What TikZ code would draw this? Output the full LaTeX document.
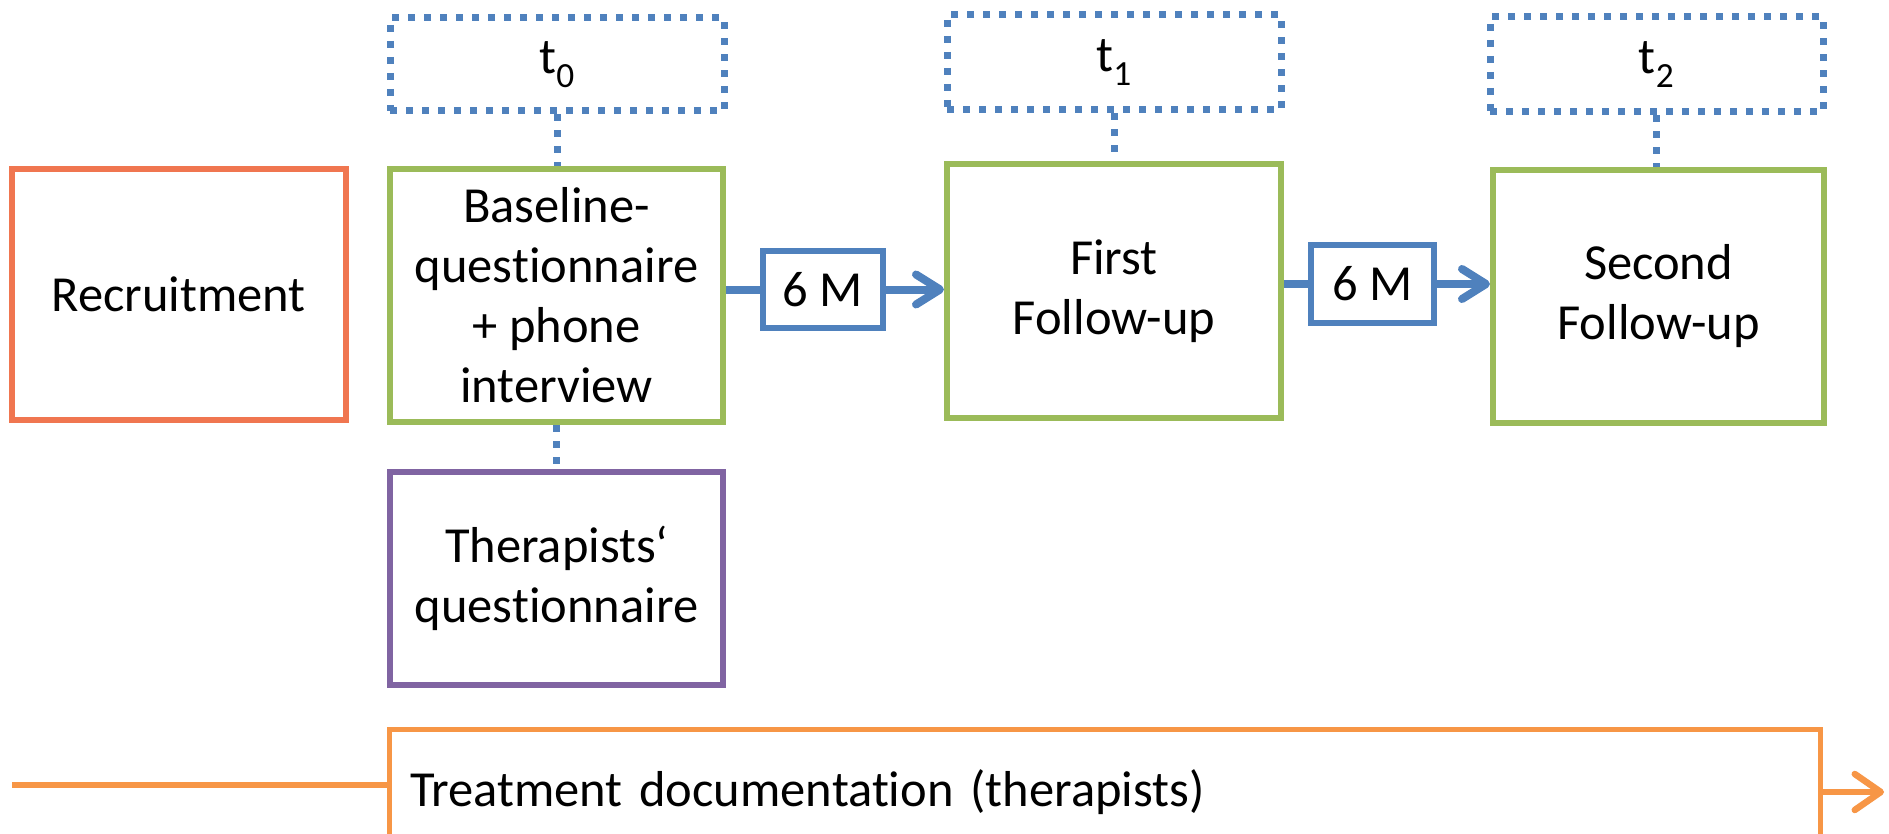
\documentclass[tikz,border=0pt]{standalone}
\definecolor{SRed}{HTML}{F07650}
\definecolor{SGreen}{HTML}{9BBB59}
\definecolor{SBlue}{HTML}{4F81BD}
\definecolor{SPurple}{HTML}{8064A2}
\definecolor{SOrange}{HTML}{F79646}
\usepackage{fontspec}
\setmainfont{Carlito}[Ligatures=NoCommon]
\usepackage{tikz}
\usetikzlibrary{arrows.meta,calc}

\begin{document}
\begin{tikzpicture}[x=1pt,y=-1pt,
    box/.style={rectangle,draw,line width=6pt,fill=white,align=center,
      inner sep=0pt,font=\fontsize{50.5}{60}\selectfont},
    timebox/.style={box,draw=SBlue,line width=7pt,dash pattern=on 7pt off 9pt},
    stagebox/.style={box,draw=SGreen},
    gapbox/.style={box,draw=SBlue,line width=6pt},
    timeline/.style={draw=SBlue,line width=7pt,dash pattern=on 7pt off 9pt},
    flow/.style={draw=SBlue,line width=8pt},
    flowtip/.style={flow,-{Straight Barb[round,length=24pt,width=30pt]}},
    doc/.style={draw=SOrange,line width=6.5pt},
    doctip/.style={doc,-{Straight Barb[round,length=26pt,width=36pt]}}]
  \clip (0,0) rectangle (1889,834);
  \fill[white] (0,0) rectangle (1889,834);

  % study stages
  \node[box,draw=SRed,minimum width=334pt,minimum height=251pt]
    (recruit) at (178.5,294.5) {Recruitment};
  \node[stagebox,minimum width=333pt,minimum height=253pt]
    (base) at (556.5,295.5) {Baseline-\\questionnaire\\+ phone\\interview};
  \node[box,draw=SPurple,minimum width=333pt,minimum height=213pt]
    (ther) at (556.5,578.5) {Therapists‘\\questionnaire};
  \node[stagebox,minimum width=334pt,minimum height=254pt]
    (first) at (1114,291) {First\\Follow-up};
  \node[stagebox,minimum width=331pt,minimum height=253pt]
    (second) at (1658.5,296.5) {Second\\Follow-up};

  % measurement points
  \node[timebox,minimum width=334pt,minimum height=93pt]
    (tnull) at (557,64.5) {t\textsubscript{0}};
  \node[timebox,minimum width=334pt,minimum height=95pt]
    (tone) at (1114,62.5) {t\textsubscript{1}};
  \node[timebox,minimum width=333pt,minimum height=95pt]
    (ttwo) at (1656.5,64.5) {t\textsubscript{2}};

  \draw[timeline] (tnull.south) -- (tnull.south |- base.north);
  \draw[timeline] (base.south) -- (base.south |- ther.north);
  \draw[timeline] (tone.south) -- (tone.south |- first.north);
  \draw[timeline] (ttwo.south) -- (ttwo.south |- second.north);

  % intervals
  \node[gapbox,minimum width=120pt,minimum height=77pt]
    (mone) at (823,289.5) {6 M};
  \node[gapbox,minimum width=123pt,minimum height=78pt]
    (mtwo) at (1372.5,284) {6 M};

  \draw[flow] (base.east |- mone) -- (mone.west);
  \draw[flowtip] (mone.east) -- (mone.east -| first.west);
  \draw[flow] (first.east |- mtwo) -- (mtwo.west);
  \draw[flowtip] (mtwo.east) -- (mtwo.east -| second.west);

  % treatment documentation
  \node[box,draw=SOrange,line width=5pt,align=left,minimum width=1431pt,
        minimum height=126pt,text width=1389pt,inner xsep=21pt]
    (tdoc) at (1104.5,792) {Treatment documentation (therapists)};
  \coordinate (tstart) at (12,785);
  \coordinate (tend) at (1884,792);
  \draw[doc] (tstart) -- (tstart -| tdoc.west);
  \draw[doctip] (tdoc.east) -- (tend);
\end{tikzpicture}
\end{document}
